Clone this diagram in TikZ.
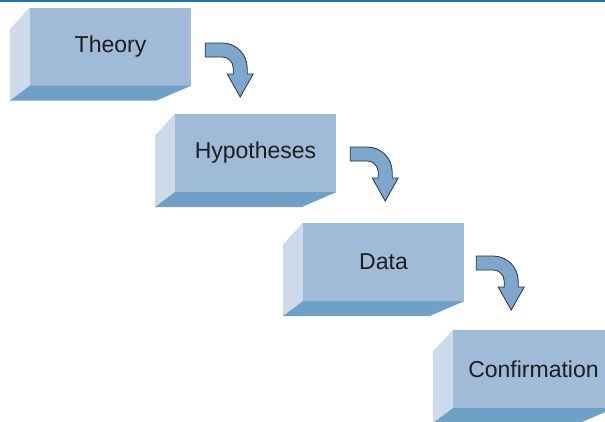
\documentclass[tikz,border=0pt]{standalone}
\usepackage{fontspec}
\setmainfont{Liberation Sans}
\usetikzlibrary{positioning}
\definecolor{frontblue}{RGB}{159,187,215}
\definecolor{sideblue}{RGB}{204,218,233}
\definecolor{baseblue}{RGB}{111,161,199}
\definecolor{arrowblue}{RGB}{125,167,205}
\definecolor{arrowline}{RGB}{45,50,55}
\definecolor{rulecolor}{RGB}{26,122,176}
\definecolor{labelgray}{RGB}{30,30,30}
\newcommand\boxfaces[1]{%
  \fill[sideface] (#1.north west) -- ++(-20,-22) -- ([xshift=-20pt, yshift=-15pt]#1.south west) -- (#1.south west) -- cycle;
  \fill[baseface] (#1.south west) -- (#1.south east) -- ++(-35,-15) -- ([xshift=-20pt, yshift=-15pt]#1.south west) -- cycle;}
\newcommand\bentarrow[1]{%
  \draw[bent] ([yshift=7pt]#1) -- ++(17,0) arc[start angle = 90, end angle = 0, radius = 25pt]
    -- ++(0,-6) -- ++(6,0) -- ++(-13,-23) -- ++(-13,23) -- ++(6,0) -- ++(0,6)
    arc[start angle = 0, end angle = 90, radius = 11pt] -- ++(-17,0) -- cycle;}

\begin{document}
\begin{tikzpicture}[x = 1pt, y = 1pt,
    block/.style = {fill = frontblue, minimum width = 161pt, minimum height = 78pt, inner sep = 0pt, text = labelgray, font = \fontsize{23}{27}\selectfont},
    sideface/.style = {fill = sideblue},
    baseface/.style = {fill = baseblue},
    bent/.style = {fill = arrowblue, draw = arrowline, line width = 0.8pt, line join = miter}]
      \useasboundingbox (0,0) rectangle (605,-421);
      \clip (0,0) rectangle (605,-421);
      \draw[rulecolor, line width = 2pt] (0,-1) -- (605,-1);

      \node[block] (theory)       at (110.5,-46.5) {Theory};
      \node[block] (hypotheses)   at (255.5,-153)  {Hypotheses};
      \node[block] (data)         at (383.5,-262)  {Data};
      \node[block] (confirmation) at (533.5,-369)  {Confirmation};
      \foreach \b in {theory, hypotheses, data, confirmation} {\boxfaces{\b}}

      \coordinate (bend1) at ([xshift = 14pt, yshift = -3.5pt]theory.east);
      \coordinate (bend2) at ([xshift = 14pt, yshift = -1pt]hypotheses.east);
      \coordinate (bend3) at ([xshift = 12pt, yshift = -1pt]data.east);
      \foreach \a in {bend1, bend2, bend3} {\bentarrow{\a}}
    \end{tikzpicture}
\end{document}
